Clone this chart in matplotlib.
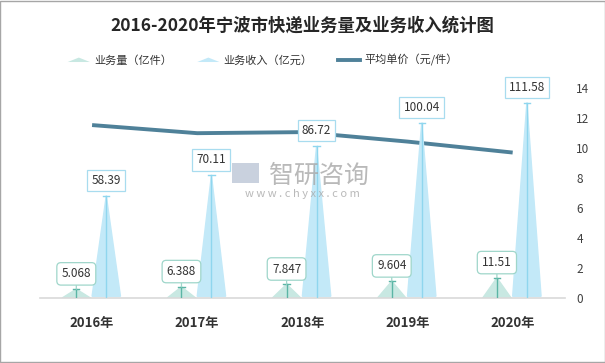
import matplotlib
matplotlib.use("Agg")
import matplotlib.pyplot as plt
from matplotlib.patches import Polygon, Rectangle
from matplotlib.lines import Line2D
from matplotlib.legend_handler import HandlerPatch

plt.rcParams['font.family'] = ['Noto Sans CJK SC', 'DejaVu Sans']

# 数据
years = ['2016年', '2017年', '2018年', '2019年', '2020年']
volume = [5.068, 6.388, 7.847, 9.604, 11.51]        # 业务量（亿件）
revenue = [58.39, 70.11, 86.72, 100.04, 111.58]     # 业务收入（亿元）
unit_price = [11.52, 10.98, 11.05, 10.42, 9.69]     # 平均单价（元/件）
vol_labels = ['5.068', '6.388', '7.847', '9.604', '11.51']
rev_labels = ['58.39', '70.11', '86.72', '100.04', '111.58']
right_ticks = [0, 2, 4, 6, 8, 10, 12, 14]

c_vol = '#c8e8e2'
c_vol_line = '#5bb5a5'
c_vol_edge = '#9fd6ca'
c_rev = '#c3e9f8'
c_rev_line = '#8fd6ee'
c_rev_edge = '#a8dcef'
c_price = '#4f8199'


class TriHandler(HandlerPatch):
    def create_artists(self, legend, orig_handle, xdescent, ydescent,
                       width, height, fontsize, trans):
        p = Polygon([[-xdescent, -ydescent + 1],
                     [width / 2 - xdescent, height * 0.75 - ydescent],
                     [width - xdescent, -ydescent + 1]],
                    closed=True, facecolor=orig_handle.get_facecolor(),
                    edgecolor='none', transform=trans)
        return [p]


fig = plt.figure(figsize=(6.05, 3.63), dpi=100)
ax = fig.add_axes([0.0653, 0.179, 0.869, 0.579])
ax2 = ax.twinx()

x = list(range(len(years)))
w = 0.27
off_vol = -0.15
off_rev = 0.135

# 三角形柱
for i in x:
    xv = i + off_vol
    ax.fill([xv - w / 2, xv, xv + w / 2], [0, volume[i], 0], color=c_vol, zorder=2)
    ax.plot([xv, xv], [0, volume[i]], color=c_vol_line, lw=1, zorder=3)
    ax.plot([xv - 0.03, xv + 0.03], [volume[i], volume[i]], color=c_vol_line, lw=1, zorder=3)
    ax.annotate(vol_labels[i], xy=(xv, volume[i]), xytext=(0, 11),
                textcoords='offset points', ha='center', va='center',
                fontsize=8.5, color='#333333', zorder=6,
                bbox=dict(boxstyle='round,pad=0.4,rounding_size=0.35', fc='white', ec=c_vol_edge, lw=0.9),
                arrowprops=dict(arrowstyle='-', color=c_vol_edge, lw=0.9, shrinkA=0, shrinkB=0))

    xr = i + off_rev
    ax.fill([xr - w / 2, xr, xr + w / 2], [1, revenue[i], 1], color=c_rev, zorder=2)
    ax.plot([xr, xr], [0, revenue[i]], color=c_rev_line, lw=1, zorder=3)
    ax.plot([xr - 0.03, xr + 0.03], [revenue[i], revenue[i]], color=c_rev_line, lw=1, zorder=3)
    ax.annotate(rev_labels[i], xy=(xr, revenue[i]), xytext=(0, 11),
                textcoords='offset points', ha='center', va='center',
                fontsize=8.5, color='#333333', zorder=6,
                bbox=dict(boxstyle='square,pad=0.35', fc='white', ec=c_rev_edge, lw=0.9))

ax.set_xlim(-0.5, len(years) - 0.5)
ax.set_ylim(0, 120)
ax.set_xticks(x)
ax.set_xticklabels(years, fontsize=9.5, fontweight='bold', color='#333333')
ax.tick_params(axis='x', length=0, pad=13)
ax.set_yticks([])
for s in ['top', 'left', 'right']:
    ax.spines[s].set_visible(False)
ax.spines['bottom'].set_color('#d9d9d9')
ax.spines['bottom'].set_linewidth(1.2)

ax2.plot(x, unit_price, color=c_price, lw=2.8, solid_capstyle='butt', zorder=4)
ax2.set_ylim(0, 14)
ax2.set_yticks(right_ticks)
ax2.tick_params(axis='y', length=0, labelsize=8.5, labelcolor='#404040', pad=8)
for s in ['top', 'left', 'right', 'bottom']:
    ax2.spines[s].set_visible(False)
ax.set_zorder(ax2.get_zorder() + 1)
ax.patch.set_visible(False)

# 水印
fig.text(0.528, 0.515, '智研咨询', fontsize=18, color='#a8a8a8', alpha=0.8,
         ha='center', va='center')
fig.text(0.5, 0.466, 'w w w . c h y x x . c o m', fontsize=8, color='#a8a8a8',
         alpha=0.8, ha='center', va='center')
fig.patches.append(Rectangle((0.383, 0.495), 0.045, 0.055, transform=fig.transFigure,
                             fc='#bcc6d6', ec='none', alpha=0.8))

# 标题与图例
fig.text(0.5, 0.93, '2016-2020年宁波市快递业务量及业务收入统计图', fontsize=12.5,
         fontweight='bold', color='#262626', ha='center', va='center')

handles = [Polygon([[0, 0], [1, 1], [2, 0]], facecolor=c_vol),
           Polygon([[0, 0], [1, 1], [2, 0]], facecolor=c_rev),
           Line2D([0], [0], color=c_price, lw=2.8)]
labels = ['业务量（亿件）', '业务收入（亿元）', '平均单价（元/件）']
fig.legend(handles, labels, loc='center', bbox_to_anchor=(0.434, 0.835), ncol=3,
           frameon=False, fontsize=8, handlelength=2.0, handletextpad=0.35,
           columnspacing=2.3, labelcolor='#333333',
           handler_map={Polygon: TriHandler()})

fig.patches.append(Rectangle((0.0008, 0.0014), 0.9984, 0.9972, transform=fig.transFigure,
                             fill=False, ec='#a6a6a6', lw=1))

fig.savefig('out.png', dpi=100)
